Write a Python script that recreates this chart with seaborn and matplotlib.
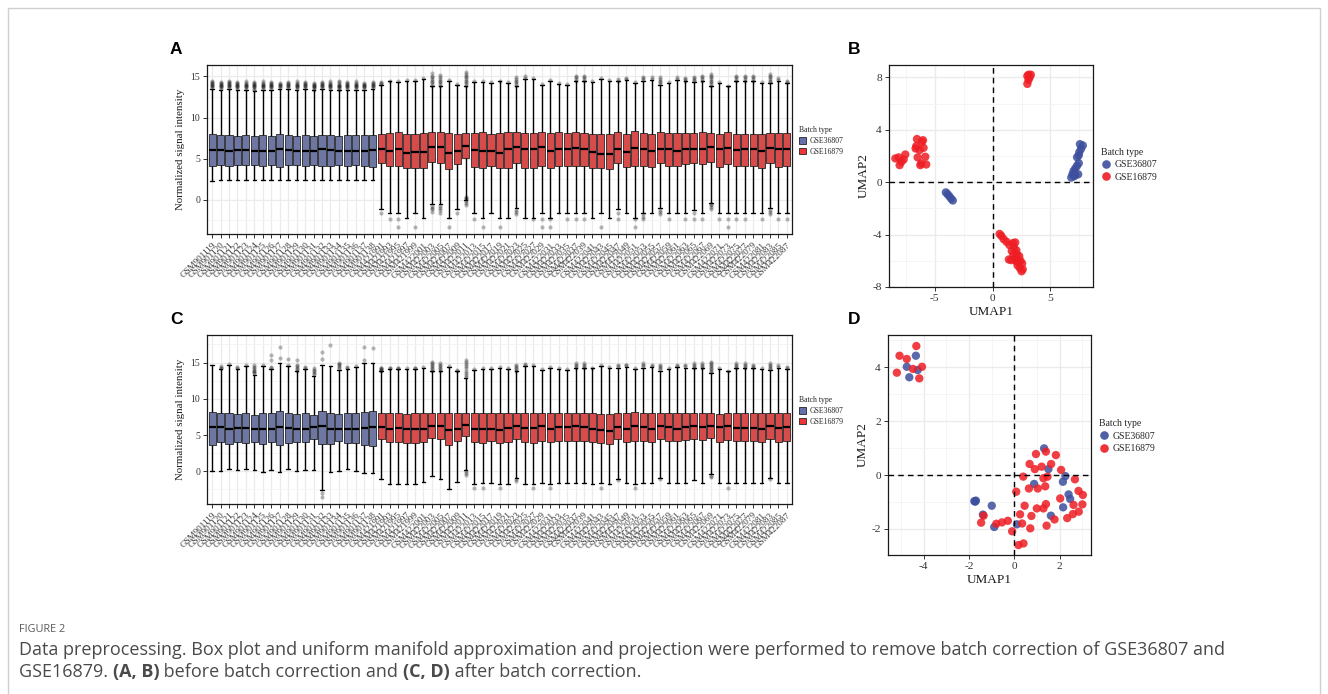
import numpy as np
import pandas as pd
import matplotlib
matplotlib.use("Agg")
import matplotlib.pyplot as plt
from matplotlib.patches import Patch, Rectangle
from matplotlib.lines import Line2D
import seaborn as sns

# ---------------------------------------------------------------- data
BATCHES = ["GSE36807", "GSE16879"]

SAMPLES_36807 = [
    "GSM901119", "GSM901120", "GSM901121", "GSM901122", "GSM901123",
    "GSM901124", "GSM901125", "GSM901126", "GSM901127", "GSM901128",
    "GSM901129", "GSM901130", "GSM901131", "GSM901132", "GSM901133",
    "GSM901134", "GSM901135", "GSM901136", "GSM901137", "GSM901138",
]
SAMPLES_16879 = [
    "GSM421991", "GSM421993", "GSM421995", "GSM421997", "GSM421999",
    "GSM422001", "GSM422003", "GSM422005", "GSM422007", "GSM422009",
    "GSM422011", "GSM422013", "GSM422015", "GSM422017", "GSM422019",
    "GSM422021", "GSM422023", "GSM422025", "GSM422027", "GSM422029",
    "GSM422031", "GSM422033", "GSM422035", "GSM422037", "GSM422039",
    "GSM422041", "GSM422043", "GSM422045", "GSM422047", "GSM422049",
    "GSM422051", "GSM422053", "GSM422055", "GSM422057", "GSM422059",
    "GSM422061", "GSM422063", "GSM422065", "GSM422067", "GSM422069",
    "GSM422071", "GSM422073", "GSM422075", "GSM422077", "GSM422079",
    "GSM422081", "GSM422083", "GSM422085", "GSM422087",
]
SAMPLES = SAMPLES_36807 + SAMPLES_16879
SAMPLE_BATCH = ["GSE36807"] * len(SAMPLES_36807) + ["GSE16879"] * len(SAMPLES_16879)

# box statistics before batch correction (lower whisker, Q1, median, Q3, upper whisker)
A_LO = [2.3, 2.4, 2.4, 2.4, 2.4, 2.4, 2.4, 2.4, 2.4, 2.4, 2.4, 2.4, 2.4, 2.4, 2.4, 2.4, 2.4, 2.4, 2.4, 2.4,
        -1.2, -1.7, -1.7, -2.3, -1.7, -2.3, -0.6, -0.6, -2.3, -1.2, -0.1, -1.7, -2.3,
        -1.7, -2.3, -2.3, -1.0, -2.3, -2.3, -1.7, -2.3, -1.7, -1.7, -1.7, -1.7, -2.3, -1.7, -2.3, -1.2,
        -1.7, -2.3, -1.7, -1.7, -1.0, -1.7, -1.7, -1.7, -1.3, -1.7, -0.4, -1.7, -1.7, -1.7, -1.7, -1.7,
        -1.7, -1.0, -1.7, -1.7]
A_Q1 = [4.05, 4.2, 4.1, 4.2, 4.2, 4.2, 4.1, 4.2, 4.0, 4.2, 4.2, 4.1, 4.2, 4.1, 4.1, 4.2, 4.1, 4.2, 4.1, 4.0,
        4.4, 4.05, 4.1, 3.8, 3.9, 3.9, 4.6, 4.5, 3.7, 4.3, 5.1, 4.0, 3.9,
        4.1, 3.8, 3.9, 4.5, 3.9, 3.8, 4.1, 3.9, 4.1, 4.1, 4.1, 4.1, 3.9, 3.8, 3.7, 4.4,
        4.0, 4.1, 4.1, 4.0, 4.5, 4.1, 4.1, 4.3, 4.5, 4.3, 4.6, 4.0, 4.3, 4.1, 4.1, 4.1,
        3.9, 4.5, 4.0, 4.1]
A_MED = [6.0, 6.0, 5.9, 6.0, 6.0, 5.9, 5.9, 5.9, 6.1, 6.0, 5.9, 5.9, 5.9, 6.1, 6.0, 5.9, 5.9, 5.9, 5.9, 6.0,
         6.15, 5.9, 6.1, 5.7, 5.8, 5.8, 6.4, 6.4, 5.7, 5.9, 6.5, 6.0, 5.9,
         5.9, 5.7, 6.1, 6.4, 6.1, 6.1, 6.4, 5.9, 6.2, 6.2, 6.3, 6.2, 5.8, 5.6, 5.6, 6.2,
         5.8, 6.3, 6.2, 5.9, 6.2, 6.2, 5.9, 6.2, 6.2, 6.2, 6.4, 6.2, 6.3, 6.0, 6.1, 6.1,
         5.9, 6.3, 6.1, 6.2]
A_Q3 = [8.0, 7.9, 7.9, 7.8, 7.9, 7.7, 7.9, 7.8, 8.0, 7.9, 7.8, 7.9, 7.8, 7.9, 7.9, 7.8, 7.9, 7.9, 7.9, 7.9,
        8.0, 8.1, 8.2, 8.0, 8.0, 8.1, 8.2, 8.2, 8.1, 8.0, 8.1, 8.1, 8.2,
        8.0, 8.1, 8.2, 8.2, 8.1, 8.1, 8.2, 8.1, 8.2, 8.1, 8.2, 8.1, 8.0, 8.0, 8.0, 8.2,
        8.0, 8.3, 8.1, 8.0, 8.2, 8.1, 8.1, 8.1, 8.1, 8.2, 8.1, 8.0, 8.2, 8.0, 8.0, 8.0,
        8.0, 8.1, 8.1, 8.1]
A_HI = [13.5, 13.4, 13.5, 13.4, 13.4, 13.2, 13.4, 13.4, 13.5, 13.5, 13.4, 13.5, 13.3, 13.5, 13.4, 13.3, 13.4, 13.4, 13.4, 13.5,
        14.0, 14.4, 14.3, 14.5, 14.5, 14.7, 13.8, 13.8, 14.5, 14.0, 13.8, 14.3, 14.3,
        14.2, 14.4, 14.2, 13.8, 14.7, 14.7, 14.0, 14.5, 14.1, 14.0, 14.4, 14.4, 14.3, 14.7, 14.5, 14.4,
        14.6, 14.2, 14.5, 14.6, 14.0, 14.2, 14.6, 14.4, 14.3, 14.4, 13.8, 14.2, 13.8, 14.4, 14.4, 14.4,
        14.2, 14.2, 14.5, 14.2]
A_OUTLIERS = [
    [13.6, 13.8, 13.9, 14.0, 14.1, 14.2, 14.3, 14.4], [13.5, 13.7, 13.8, 13.9, 14.0, 14.1, 14.2, 14.3],
    [13.6, 13.8, 13.9, 14.0, 14.1, 14.2, 14.3, 14.4], [13.5, 13.7, 13.8, 13.9, 14.0, 14.1, 14.2, 14.3],
    [13.5, 13.7, 13.8, 13.9, 14.0, 14.1, 14.2, 14.4], [13.3, 13.5, 13.7, 13.8, 13.9, 14.0, 14.1, 14.2, 14.3],
    [13.5, 13.7, 13.8, 13.9, 14.0, 14.1, 14.2, 14.4], [13.5, 13.7, 13.8, 13.9, 14.0, 14.1, 14.2, 14.3],
    [13.6, 13.8, 13.9, 14.0, 14.1, 14.2], [13.6, 13.8, 13.9, 14.0, 14.1, 14.2, 14.3],
    [13.5, 13.7, 13.8, 13.9, 14.0, 14.1, 14.2, 14.4], [13.6, 13.8, 13.9, 14.0, 14.1, 14.2, 14.3],
    [13.4, 13.6, 13.7, 13.8, 13.9, 14.0, 14.1, 14.2], [13.6, 13.8, 13.9, 14.0, 14.1, 14.2, 14.3],
    [13.5, 13.7, 13.8, 13.9, 14.0, 14.1, 14.2, 14.4], [13.4, 13.6, 13.7, 13.8, 13.9, 14.0, 14.1, 14.3, 14.5],
    [13.5, 13.7, 13.8, 13.9, 14.0, 14.1, 14.2, 14.3], [13.5, 13.7, 13.8, 13.9, 14.0, 14.1, 14.2, 14.4],
    [13.5, 13.7, 13.8, 13.9, 14.0, 14.1, 14.2], [13.6, 13.8, 13.9, 14.0, 14.1, 14.2, 14.3],
    [14.1, 14.2, 14.3, -1.6], [14.5, -2.4], [14.4, -2.4, -3.3], [14.6], [14.6, -3.3], [14.8],
    [13.9, 14.1, 14.3, 14.5, 14.7, 14.9, 15.1, 15.4, -0.8, -1.0, -1.2, -1.5],
    [13.9, 14.1, 14.3, 14.5, 14.7, 14.9, 15.2, -0.8, -1.0, -1.3, -1.6],
    [14.6, -3.3], [14.1, -1.7],
    [13.9, 14.1, 14.3, 14.5, 14.7, 14.9, 15.1, 15.3, 15.5, 0.3, 0.2, 0.1, -0.2, -0.4, -0.7],
    [14.4, -2.4], [14.4, -3.3],
    [14.3], [14.5, -3.3], [14.3], [13.9, 14.1, 14.3, 14.5, 14.7, 14.9, -1.3, -1.5, -1.8],
    [14.8, 15.0], [14.8, -2.4], [14.1, -2.4, -3.3], [14.6, -2.4, -3.3], [14.2], [14.1, -2.4],
    [14.5, 14.7, 14.9, 15.0, -2.4], [14.5, 14.7, 14.9, 15.0, -2.4], [14.4], [14.8, -3.3], [14.6],
    [14.5, 14.7, -1.6, -2.4], [14.7, 14.8], [14.3, -2.4, -3.3], [14.6, 14.8, 14.9, -1.8, -2.1, -2.4],
    [14.7, 14.9], [14.1, 14.3, 14.5, 14.7, 14.9, -1.3, -1.5, -1.8], [14.3, -2.4], [14.7, 14.9],
    [14.5, 14.7, 14.8, -2.4], [14.4, 14.6, 14.8, 14.9, -1.7, -2.4], [14.5, 14.7, 14.9, 15.0, -2.4],
    [13.9, 14.1, 14.3, 14.5, 14.7, 14.9, 15.1, 15.3, -0.5, -0.7, -0.9, -1.2],
    [14.3, -2.4], [13.9, -2.4, -3.3], [14.5, 14.7, 14.9, 15.0, -2.4], [14.5, 14.7, 14.9, 15.0, -2.4],
    [14.5, 14.7, 14.9, 15.0], [14.3, -2.4], [14.3, 14.5, 14.7, 14.9, 15.1, 15.3, -1.3, -1.5, -1.8],
    [14.6, 14.8, -2.4], [14.3, 14.5, -2.4],
]

# box statistics after batch correction
C_LO = [0.0, 0.0, 0.3, 0.2, 0.3, 0.2, -0.1, 0.2, -0.1, 0.3, 0.0, 0.2, 0.2, -2.6, -0.1, 0.1, 0.3, 0.0, -0.2, -0.2,
        -1.0, -1.7, -1.7, -1.7, -1.7, -1.4, -0.6, -1.0, -2.5, -1.5, 0.2, -1.7, -1.6,
        -1.6, -1.8, -1.7, -0.9, -1.8, -1.8, -1.6, -1.8, -1.6, -1.6,
        -1.6, -1.6, -1.8, -1.6, -1.8, -1.1, -1.6, -1.8, -1.6, -1.6,
        -0.9, -1.6, -1.6, -1.6, -1.2, -1.6, -0.4, -1.6, -1.6, -1.6,
        -1.6, -1.6, -1.6, -0.9, -1.6, -1.6]
C_Q1 = [3.7, 4.1, 3.8, 4.0, 3.9, 4.1, 3.8, 4.1, 3.7, 3.9, 4.1, 4.0, 4.4, 3.8, 3.8, 4.2, 3.9, 3.9, 3.7, 3.5,
        4.4, 4.1, 4.1, 3.9, 3.9, 4.0, 4.6, 4.5, 3.7, 4.2, 4.9, 4.0, 3.9,
        4.2, 3.9, 4.0, 4.5, 4.0, 3.9, 4.2, 4.0, 4.2, 4.2,
        4.2, 4.2, 4.0, 3.9, 3.8, 4.4, 4.1, 4.2, 4.2, 4.1,
        4.5, 4.2, 4.2, 4.3, 4.5, 4.3, 4.6, 4.1, 4.3, 4.2,
        4.2, 4.2, 4.0, 4.5, 4.1, 4.2]
C_MED = [6.1, 6.1, 5.9, 6.0, 6.0, 5.9, 5.9, 5.9, 6.1, 6.0, 5.9, 5.8, 6.1, 6.2, 5.9, 5.9, 5.9, 5.9, 6.0, 6.1,
         6.1, 5.9, 6.0, 5.8, 5.8, 5.8, 6.3, 6.3, 5.7, 5.9, 6.4, 5.9, 5.8,
         5.9, 5.7, 6.0, 6.3, 6.0, 6.0, 6.3, 5.9, 6.1, 6.1,
         6.2, 6.1, 5.8, 5.7, 5.6, 6.1, 5.8, 6.2, 6.1, 5.9,
         6.2, 6.1, 5.9, 6.1, 6.2, 6.1, 6.3, 6.1, 6.2, 6.0,
         6.0, 6.0, 5.9, 6.2, 6.0, 6.1]
C_Q3 = [8.2, 8.0, 8.1, 7.9, 8.1, 7.8, 8.0, 8.0, 8.3, 8.1, 7.9, 8.0, 7.8, 8.3, 8.1, 7.9, 8.0, 8.1, 8.2, 8.3,
        8.1, 8.1, 8.1, 7.9, 8.0, 8.0, 8.1, 8.1, 8.1, 8.0, 8.0, 8.1, 8.1,
        8.0, 8.0, 8.1, 8.1, 8.0, 8.0, 8.1, 8.0, 8.1, 8.0,
        8.1, 8.0, 8.0, 7.9, 7.9, 8.1, 8.0, 8.2, 8.0, 8.0,
        8.1, 8.0, 8.0, 8.0, 8.0, 8.1, 8.0, 7.9, 8.1, 8.0,
        8.0, 8.0, 8.0, 8.0, 8.0, 8.0]
C_HI = [14.7, 14.1, 14.7, 14.1, 14.5, 13.3, 14.5, 14.1, 14.9, 14.5, 13.8, 14.1, 13.2, 14.7, 14.5, 14.0, 14.1, 14.4, 15.0, 15.0,
        13.8, 14.1, 14.1, 14.1, 14.1, 14.3, 13.8, 13.8, 14.4, 13.8, 12.9, 14.0, 14.1,
        14.1, 14.3, 14.1, 13.8, 14.5, 14.5, 14.0, 14.3, 14.1, 14.0,
        14.2, 14.2, 14.2, 14.5, 14.3, 14.2, 14.4, 14.1, 14.3, 14.4,
        13.9, 14.1, 14.4, 14.2, 14.2, 14.2, 13.6, 14.1, 13.8, 14.2,
        14.2, 14.2, 14.1, 14.0, 14.3, 14.1]
C_OUTLIERS = [
    [], [14.2, 14.3, 14.5], [14.8], [14.2, 14.4], [14.6], [13.5, 13.7, 13.9, 14.0, 14.2, 14.4, 14.6],
    [14.6], [14.2, 14.4, 15.3, 16.0], [15.6, 17.2], [14.6, 15.5],
    [13.9, 14.1, 14.3, 14.5, 14.7, 15.3], [14.2, 14.4], [13.4, 13.6, 13.8, 14.0, 14.3],
    [15.5, 16.5, -3.0, -3.5], [17.4], [14.2, 14.4, 14.6, 14.8, 15.0], [14.2, 14.4], [14.5],
    [15.4, 17.2], [17.0],
    [13.9, 14.0, 14.1, 14.2, 14.3], [14.2, 14.3], [14.2, 14.3], [14.2], [14.2, 14.3], [14.4],
    [13.9, 14.1, 14.3, 14.5, 14.7, 14.9, 15.1], [13.9, 14.1, 14.3, 14.5, 14.7, 14.9], [14.5],
    [13.9, 14.0], [13.0, 13.3, 13.6, 13.9, 14.2, 14.5, 14.8, 15.1, 15.3, 0.0, -0.2, -0.5],
    [14.1, -2.3], [14.2, -2.3],
    [14.2], [14.4, -2.3], [14.2], [13.9, 14.1, 14.3, 14.5, 14.7, -1.1, -1.3], [14.6, 14.8],
    [14.6, -2.3], [14.1], [14.4, -2.3], [14.2], [14.1], [14.3, 14.5, 14.7, 14.9],
    [14.3, 14.5, 14.7, 14.9], [14.3], [14.6, -2.3], [14.4], [14.5, 14.7, -1.2], [14.6, 14.7],
    [14.2, -2.3], [14.5, 14.7, 14.9], [14.5, 14.7], [14.1, 14.3, 14.5, 14.7, -1.0], [14.3],
    [14.5, 14.7], [14.5, 14.7], [14.3, 14.5, 14.7, 14.9], [14.3, 14.5, 14.7, 14.9],
    [13.7, 13.9, 14.1, 14.3, 14.5, 14.7, 14.9, 15.1, -0.6, -0.8], [14.2], [13.9, -2.3],
    [14.3, 14.5, 14.7, 14.9], [14.3, 14.5, 14.7, 14.9], [14.3, 14.5, 14.7], [14.2],
    [14.1, 14.3, 14.5, 14.7, 14.9, -1.0], [14.4, 14.6], [14.2, 14.4],
]

# UMAP embedding before batch correction
B_UMAP1_36807 = [7.55, 7.80, 7.65, 7.50, 7.45, 7.30, 7.45, 7.30, 7.15, 7.00, 6.90, 6.80, 7.15, 7.40, 7.05,
                 -4.05, -3.90, -3.75, -3.60, -3.45]
B_UMAP2_36807 = [2.90, 2.80, 2.55, 2.30, 2.05, 1.90, 1.45, 1.25, 1.05, 0.85, 0.60, 0.35, 0.55, 0.60, 0.45,
                 -0.78, -0.92, -1.08, -1.25, -1.40]
B_UMAP1_16879 = [3.00, 3.10, 3.20, 3.30, 3.00, 3.10,
                 -8.42, -8.13, -7.90, -8.05, -7.56, -6.55, -6.61, -6.12, -6.03, -6.32, -5.98, -6.49,
                 -6.18, -5.83, -5.75, -6.26, -6.67, -7.70,
                 0.60, 0.75, 0.95, 1.20, 1.45, 1.75, 1.95, 1.85, 1.65, 2.05, 1.80, 2.10, 2.30, 1.40,
                 1.90, 2.05, 2.40, 2.55, 2.15, 2.35, 2.50, 2.60, 1.60, 2.25, 2.00]
B_UMAP2_16879 = [7.50, 7.80, 8.00, 8.20, 8.10, 8.20,
                 1.81, 1.89, 1.55, 1.30, 2.11, 3.29, 2.75, 3.08, 3.20, 2.45, 2.62, 1.89,
                 1.43, 1.94, 1.35, 1.30, 2.57, 1.73,
                 -3.95, -4.10, -4.35, -4.55, -4.80, -4.65, -4.60, -5.00, -5.25, -5.20, -5.55, -5.50,
                 -5.65, -5.90, -5.85, -6.05, -6.00, -6.20, -6.35, -6.55, -6.80, -6.65, -5.95, -6.10, -5.95]

# UMAP embedding after batch correction
D_UMAP1_36807 = [-4.34, -4.74, -4.26, -4.63, 1.32, 1.51, 0.88, 2.26, 2.15, 2.40, 2.47, 2.16, 1.62,
                 -1.76, -1.69, -0.99, -1.38, -0.88, 0.12, -1.72]
D_UMAP2_36807 = [4.43, 4.02, 3.90, 3.63, 0.99, 0.22, -0.33, -0.04, -0.25, -0.72, -0.89, -1.20, -1.51,
                 -0.97, -0.95, -1.14, -1.47, -1.93, -1.83, -0.99]
D_UMAP1_16879 = [-4.32, -5.06, -4.74, -5.18, -4.47, -4.07, -4.19,
                 0.96, 1.40, 1.84, 0.68, 1.21, 1.63, 0.91, 0.40, 1.29, 1.47, 2.07, 2.68, 0.65, 1.04,
                 1.37, 0.09, 2.84, 3.03, 2.03, 0.46, 1.00, 1.40, 1.29, 2.62, 3.01, 2.85, 2.59, 2.34,
                 1.78, 0.76, 0.26, 0.71, 0.35, 1.43, -0.09, 0.19, 0.41,
                 -1.35, -1.46, -0.79, -0.54, -0.28]
D_UMAP2_16879 = [4.79, 4.43, 4.31, 3.80, 3.94, 4.02, 3.59,
                 0.78, 0.87, 0.74, 0.41, 0.31, 0.41, 0.22, -0.06, -0.12, -0.06, 0.19, -0.16, -0.50, -0.50,
                 -0.42, -0.62, -0.59, -0.74, -0.87, -1.14, -1.24, -1.08, -1.24, -1.11, -1.09, -1.36, -1.45, -1.60,
                 -1.65, -1.52, -1.46, -1.98, -1.80, -1.88, -2.09, -2.60, -2.54,
                 -1.51, -1.77, -1.81, -1.76, -1.70]

# ---------------------------------------------------------------- style
BOX_COLORS = ["#6570AD", "#EE3434"]
POINT_COLORS = ["#3D4F9D", "#EE1D23"]
GRID = "#EBEBEB"
GRID_MINOR = "#F4F4F4"
W, H = 1328, 694

sns.set_theme(style="white")
plt.rcParams["font.family"] = ["Liberation Serif", "DejaVu Serif"]
plt.rcParams["axes.unicode_minus"] = False

fig = plt.figure(figsize=(W / 100, H / 100), dpi=100)


def ax_at(left, top, right, bottom):
    return fig.add_axes([left / W, 1 - bottom / H, (right - left) / W, (bottom - top) / H])


def style_frame(ax):
    for sp in ax.spines.values():
        sp.set_visible(True)
        sp.set_color("#1a1a1a")
        sp.set_linewidth(0.9)
    ax.set_axisbelow(True)


def box_panel(ax, lo, q1, med, q3, hi, outliers, ylim, minor_y):
    rows = []
    for name, batch, *stats in zip(SAMPLES, SAMPLE_BATCH, lo, q1, med, q3, hi):
        for v in stats:
            rows.append((name, batch, v))
    df = pd.DataFrame(rows, columns=["sample", "batch", "value"])
    sns.boxplot(data=df, x="sample", y="value", hue="batch", order=SAMPLES,
                hue_order=BATCHES, palette=BOX_COLORS, whis=(0, 100), width=0.84,
                dodge=False, linewidth=0.6, linecolor="#262626", showfliers=False,
                legend=False, ax=ax,
                medianprops=dict(color="black", linewidth=1.6),
                whiskerprops=dict(color="black", linewidth=1.0),
                capprops=dict(color="black", linewidth=1.0))
    out = pd.DataFrame([(n, v) for n, vals in zip(SAMPLES, outliers) for v in vals],
                       columns=["sample", "value"])
    sns.stripplot(data=out, x="sample", y="value", order=SAMPLES, jitter=False,
                  color="black", alpha=0.28, size=3.0, linewidth=0, ax=ax)
    style_frame(ax)
    ax.set_xlim(-0.6, len(SAMPLES) - 0.4)
    ax.set_ylim(*ylim)
    ax.set_yticks([0, 5, 10, 15])
    ax.set_yticks(minor_y, minor=True)
    ax.grid(True, which="major", color=GRID, linewidth=0.9)
    ax.grid(True, which="minor", axis="y", color=GRID_MINOR, linewidth=0.6)
    ax.set_xticks(range(len(SAMPLES)))
    ax.set_xticklabels(SAMPLES, rotation=45, ha="right", va="top",
                       rotation_mode="anchor", fontsize=6.6, color="#333333")
    ax.tick_params(axis="both", which="major", length=3, width=0.7, color="#333333",
                   bottom=True, left=True, pad=2)
    ax.tick_params(axis="y", labelsize=7, labelcolor="#333333")
    ax.tick_params(which="minor", length=0)
    ax.set_xlabel("")
    ax.set_ylabel("Normalized signal intensity", fontsize=7.8, color="#1a1a1a", labelpad=4)
    handles = [Patch(facecolor=c, edgecolor="#262626", linewidth=0.6, label=b)
               for c, b in zip(BOX_COLORS, BATCHES)]
    leg = ax.legend(handles=handles, title="Batch type", loc="center left",
                    bbox_to_anchor=(1.003, 0.55), frameon=False, fontsize=5.6,
                    title_fontsize=5.6, handlelength=0.9, handleheight=0.9,
                    handletextpad=0.5, labelspacing=0.35, borderaxespad=0.3)
    leg._legend_box.align = "left"


def umap_panel(ax, bx, by, rx, ry, xlim, ylim, xticks, yticks, xminor, yminor, legend_y):
    df = pd.DataFrame({
        "UMAP1": list(bx) + list(rx),
        "UMAP2": list(by) + list(ry),
        "Batch type": ["GSE36807"] * len(bx) + ["GSE16879"] * len(rx),
    })
    sns.scatterplot(data=df, x="UMAP1", y="UMAP2", hue="Batch type", hue_order=BATCHES,
                    palette=POINT_COLORS, s=36, alpha=0.85, linewidth=0, ax=ax, zorder=3)
    ax.axvline(0, color="black", linestyle=(0, (4, 3)), linewidth=1.0, zorder=4)
    ax.axhline(0, color="black", linestyle=(0, (4, 3)), linewidth=1.0, zorder=4)
    style_frame(ax)
    ax.set_xlim(*xlim)
    ax.set_ylim(*ylim)
    ax.set_xticks(xticks)
    ax.set_yticks(yticks)
    ax.set_xticks(xminor, minor=True)
    ax.set_yticks(yminor, minor=True)
    ax.grid(True, which="major", color=GRID, linewidth=1.0)
    ax.grid(True, which="minor", color=GRID_MINOR, linewidth=0.6)
    ax.tick_params(axis="both", which="major", length=3, width=0.7, color="#333333",
                   labelsize=8.2, labelcolor="#333333", bottom=True, left=True, pad=2)
    ax.tick_params(which="minor", length=0)
    ax.set_xlabel("UMAP1", fontsize=9.5, color="#1a1a1a", labelpad=2)
    ax.set_ylabel("UMAP2", fontsize=9.5, color="#1a1a1a", labelpad=2)
    handles = [Line2D([], [], marker="o", linestyle="", markersize=6.2,
                      markerfacecolor=c, markeredgewidth=0, alpha=0.9, label=b)
               for c, b in zip(POINT_COLORS, BATCHES)]
    leg = ax.legend(handles=handles, title="Batch type", loc="center left",
                    bbox_to_anchor=(1.01, legend_y), frameon=False, fontsize=7,
                    title_fontsize=7, handlelength=1.0, handletextpad=0.4,
                    labelspacing=0.35, borderaxespad=0.2)
    leg._legend_box.align = "left"


# ---------------------------------------------------------------- panels
ax_a = ax_at(207, 65, 792, 234)
box_panel(ax_a, A_LO, A_Q1, A_MED, A_Q3, A_HI, A_OUTLIERS, (-4.2, 16.4), [-2.5, 2.5, 7.5, 12.5])

ax_c = ax_at(207, 335, 792, 504)
box_panel(ax_c, C_LO, C_Q1, C_MED, C_Q3, C_HI, C_OUTLIERS, (-4.5, 18.8), [-2.5, 2.5, 7.5, 12.5, 17.5])

ax_b = ax_at(889, 65, 1093, 287)
umap_panel(ax_b, B_UMAP1_36807, B_UMAP2_36807, B_UMAP1_16879, B_UMAP2_16879,
           (-8.97, 8.68), (-8.0, 8.94), [-5, 0, 5], [-8, -4, 0, 4, 8],
           [-7.5, -2.5, 2.5, 7.5], [-6, -2, 2, 6], 0.55)

ax_d = ax_at(888, 335, 1091, 555)
umap_panel(ax_d, D_UMAP1_36807, D_UMAP2_36807, D_UMAP1_16879, D_UMAP2_16879,
           (-5.57, 3.39), (-2.97, 5.2), [-4, -2, 0, 2], [-2, 0, 2, 4],
           [-5, -3, -1, 1, 3], [-1, 1, 3, 5], 0.54)

for letter, x, y in [("A", 170, 50), ("B", 848, 50), ("C", 170, 320), ("D", 848, 320)]:
    fig.text(x / W, 1 - y / H, letter, fontsize=12.5, fontweight="bold",
             family=["Liberation Sans", "DejaVu Sans"], va="center", ha="left", color="black")

# ---------------------------------------------------------------- frame and caption
fig.add_artist(Rectangle((8 / W, -0.05), (1320 - 8) / W, 1.05 - 8 / H,
                         transform=fig.transFigure, fill=False,
                         edgecolor="#CFCFCF", linewidth=1.0))

CAP_FAMILY = ["Open Sans", "DejaVu Sans"]
CAP_COLOR = "#4A4A4A"
CAP_SIZE = 13.0
fig.text(19 / W, 1 - 629 / H, "FIGURE 2", fontsize=7.8, color="#5A5A5A",
         family=CAP_FAMILY, va="center", ha="left")
fig.text(19 / W, 1 - 650 / H,
         "Data preprocessing. Box plot and uniform manifold approximation and projection "
         "were performed to remove batch correction of GSE36807 and",
         fontsize=CAP_SIZE, color=CAP_COLOR, family=CAP_FAMILY, va="center", ha="left")

renderer = fig.canvas.get_renderer()


def seg_width(text, weight):
    probe = fig.text(0, 0, text + "x", fontsize=CAP_SIZE, fontweight=weight, family=CAP_FAMILY)
    ref = fig.text(0, 0, "x", fontsize=CAP_SIZE, fontweight=weight, family=CAP_FAMILY)
    w = probe.get_window_extent(renderer).width - ref.get_window_extent(renderer).width
    probe.remove()
    ref.remove()
    return w


x_px = 19
for part, weight in [("GSE16879. ", "normal"), ("(A, B)", "bold"),
                     (" before batch correction and ", "normal"), ("(C, D)", "bold"),
                     (" after batch correction.", "normal")]:
    fig.text(x_px / W, 1 - 672 / H, part, fontsize=CAP_SIZE, fontweight=weight,
             color=CAP_COLOR, family=CAP_FAMILY, va="center", ha="left")
    x_px += seg_width(part, weight)

fig.savefig("out.png", dpi=100)
